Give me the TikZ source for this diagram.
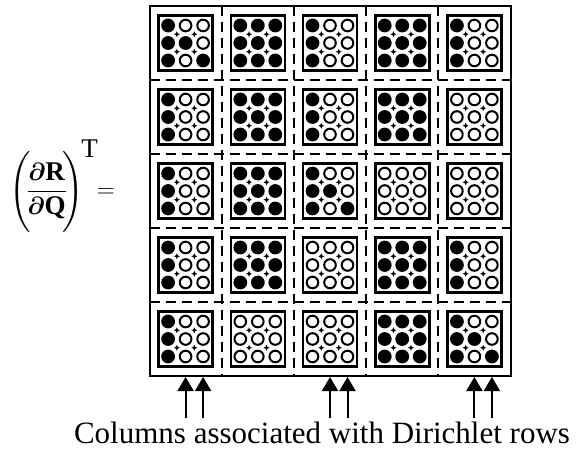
\documentclass[tikz,border=0pt]{standalone}
\usepackage{amsmath, amssymb}
\usepackage{fontspec}
\setmainfont{Liberation Serif}
\usetikzlibrary{arrows.meta, positioning, calc}

\begin{document}
\begin{tikzpicture}[x=1pt, y=1pt,
    blk/.style={draw, line width=2.6pt, minimum width=54pt, minimum height=55pt, inner sep=0pt},
    hole/.style={draw, line width=2pt},
    gridline/.style={line width=1.9pt, dash pattern=on 10pt off 6pt},
    up/.style={-{Triangle[width=16pt, length=14pt]}, line width=2pt},
    big/.style={font=\fontsize{31}{37}\selectfont, inner sep=0pt}]
    \useasboundingbox (0,0) rectangle (577,450);

    % outer frame of the matrix
    \node[draw, line width=2pt, minimum width=361pt, minimum height=370pt, inner sep=0pt] (jac) at (330,259) {};

    % dashed lines between the blocks
    \foreach \k in {1,...,4} {
        \draw[gridline] (149.5+72.2*\k, 444) -- (149.5+72.2*\k, 74);
        \draw[gridline] (149.5, 444-74*\k) -- (510.5, 444-74*\k);
    }

    % blocks: 0 = zero, 1 = full, 2 = Dirichlet part zero, 3 = identity on Dirichlet part
    \foreach \row [count=\r] in {{3,1,2,1,2},{2,1,2,1,0},{2,1,3,0,0},{2,1,0,1,2},{2,0,0,1,3}} {
        \foreach \t [count=\c] in \row {
            \pgfmathsetmacro\bx{149.5+72.2*(\c-0.5)}
            \pgfmathsetmacro\by{444-74*(\r-0.5)}
            \node[blk] (b\r\c) at (\bx, \by) {};
            \foreach \i in {1,2,3} {
                \foreach \j in {1,2,3} {
                    \pgfmathtruncatemacro\on{(\t==1) || (\t>=2 && \j==1) || (\t==3 && \i==\j)}
                    \ifnum\on=1
                        \fill (\bx+17.5*\j-35, \by-17.5*\i+35) circle (6.9);
                    \else
                        \draw[hole] (\bx+17.5*\j-35, \by-17.5*\i+35) circle (5.8);
                    \fi
                }
            }
            % small marks between the entries
            \foreach \dx/\dy in {-8.75/-8.75, -8.75/8.75, 8.75/-8.75, 8.75/8.75} {
                \fill (\bx+\dx, \by+\dy) +(0,3) -- +(0.9,0.9) -- +(3,0) -- +(0.9,-0.9)
                    -- +(0,-3) -- +(-0.9,-0.9) -- +(-3,0) -- +(-0.9,0.9) -- cycle;
            }
        }
    }

    % arrows under the Dirichlet columns
    \foreach \c in {1,3,5} {
        \foreach \j in {2,3} {
            \coordinate (t\c\j) at ($(b5\c.center)+(17.5*\j-35,0)$);
            \coordinate (s\c\j) at (t\c\j |- 0,32);
            \draw[up] (s\c\j) -- (t\c\j |- jac.south);
        }
    }

    % left hand side
    \node[font=\fontsize{27}{32}\selectfont, inner sep=0pt, anchor=east] (lhs) at (115,264)
        {$\Biggl(\!\dfrac{\boldsymbol{\partial}\mathbf{R}}{\boldsymbol{\partial}\mathbf{Q}}\!\Biggr)^{\!\textstyle\mathrm{T}}\!\!=$};

    % caption
    \node[big, anchor=base] (cap) at (322,7) {Columns associated with Dirichlet rows};
\end{tikzpicture}
\end{document}
